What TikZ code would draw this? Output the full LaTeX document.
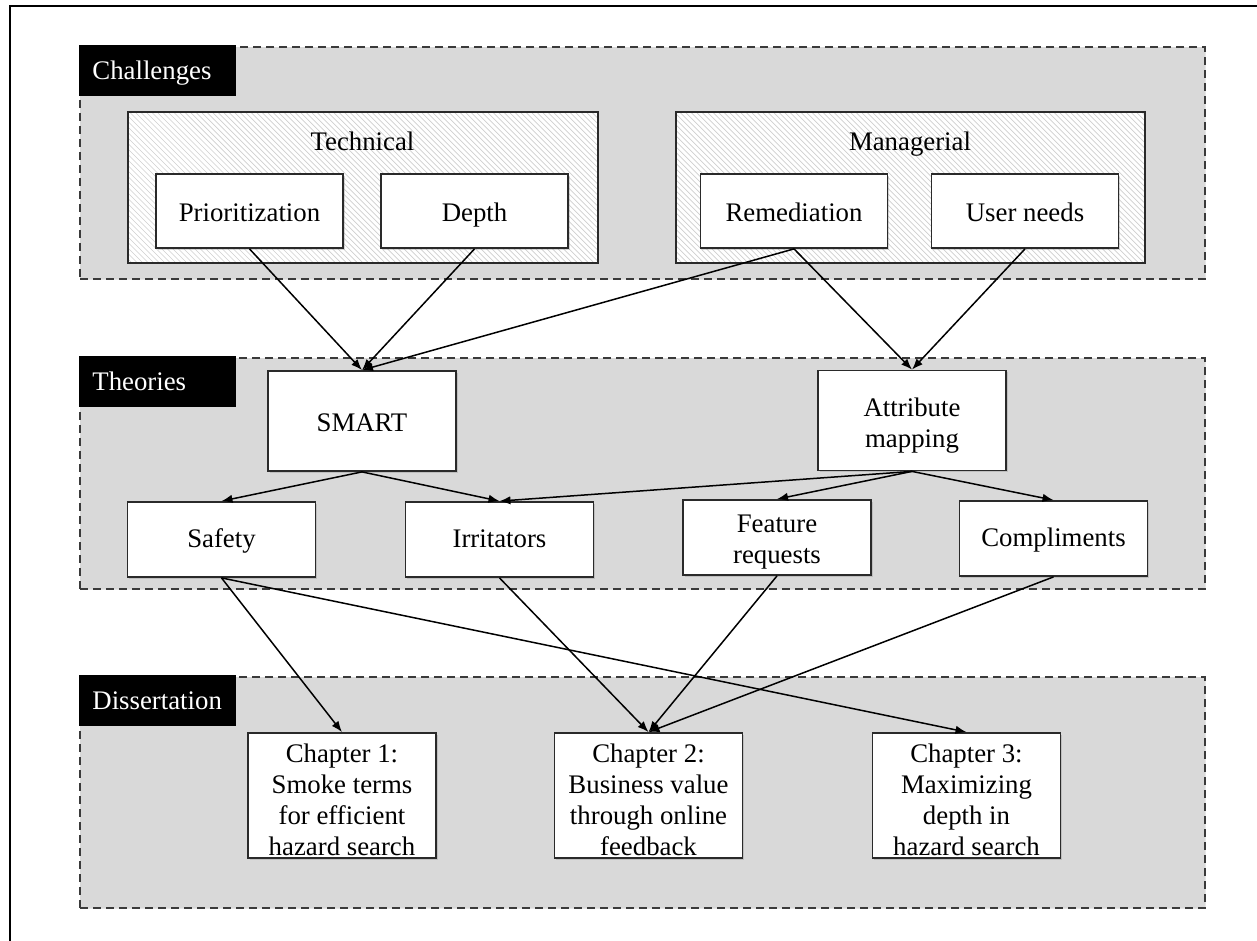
\documentclass[tikz,border=0pt]{standalone}
\usepackage{fontspec}
\setmainfont{Liberation Serif}
\usetikzlibrary{arrows.meta,shadows}
\definecolor{regionfill}{HTML}{D9D9D9}
\definecolor{dashcol}{HTML}{3A3A3A}
\definecolor{boxline}{HTML}{2A2A2A}
\definecolor{hatchcol}{HTML}{CFCFCF}
\newcommand{\myTopStrut}[1]{\rule{0pt}{#1}}
\begin{document}
\begin{tikzpicture}[x=0.5pt,y=-0.5pt,
  every node/.style={font=\fontsize{13.4}{15.5}\selectfont},
  region/.style={draw=dashcol, dash pattern=on 4pt off 2.5pt, line width=1pt,
    fill=regionfill, minimum width=562.5pt, inner sep=0pt, anchor=north west,
    drop shadow={shadow xshift=0.6pt, shadow yshift=-0.6pt, opacity=0.2}},
  seclabel/.style={fill=black, text=white, anchor=north west, text width=65.5pt,
    align=left, inner xsep=6.5pt, inner ysep=0pt, text height=11pt, text depth=2.5pt,
    minimum height=25.5pt},
  groupbox/.style={fill=white, minimum width=234.5pt, minimum height=75pt,
    inner sep=0pt, anchor=north west,
    drop shadow={shadow xshift=0.8pt, shadow yshift=-0.8pt, opacity=0.3}},
  groupborder/.style={draw=boxline, line width=0.9pt},
  hatchline/.style={draw=hatchcol, line width=0.35pt},
  box/.style={draw=boxline, fill=white, line width=0.9pt, align=center, inner sep=1pt,
    drop shadow={shadow xshift=0.8pt, shadow yshift=-0.8pt, opacity=0.3}},
  oneline/.style={text height=11pt, text depth=1pt},
  smallbox/.style={box, oneline, minimum width=93.5pt, minimum height=37pt},
  midbox/.style={box, minimum width=94pt, minimum height=50pt},
  leafbox/.style={box, minimum width=94pt, minimum height=37.5pt},
  chapbox/.style={box, minimum width=94pt, minimum height=62.5pt, inner sep=0pt},
  arr/.style={-{Latex[length=5.5pt,width=4.2pt]}, line width=0.75pt, draw=black}
]
\useasboundingbox (0,0) rectangle (1257,941);
% outer frame (left and top edges)
\draw[line width=1pt] (10,941) -- (10,6) -- (1257,6);

% regions
\node[region, minimum height=116pt] (rchal) at (79,46) {};
\node[region, minimum height=115.5pt] (rtheo) at (79,357) {};
\node[region, minimum height=115.5pt] (rdiss) at (79,676) {};

\node[seclabel] (lchal) at (79,45) {Challenges};
\node[seclabel] (ltheo) at (79,356) {Theories};
\node[seclabel] (ldiss) at (79,675) {Dissertation};

% group boxes with hatching
\node[groupbox] (tech) at (128,112) {};
\node[groupbox, minimum width=234pt] (manag) at (676,112) {};
\begin{scope}
  \clip (tech.north west) rectangle (tech.south east)
        (manag.north west) rectangle (manag.south east);
  \foreach \x in {-30,-24.5,...,1150} \draw[hatchline] (\x,112) -- ++(150,150);
\end{scope}
\draw[groupborder] (tech.north west) rectangle (tech.south east);
\draw[groupborder] (manag.north west) rectangle (manag.south east);
\node[anchor=base] (techlab) at (362.5,151) {Technical};
\node[anchor=base] (manlab) at (910,151) {Managerial};

% challenge boxes
\node[smallbox] (prio) at (249.5,211) {Prioritization};
\node[smallbox] (depth) at (474.5,211) {Depth};
\node[smallbox] (remed) at (794,211) {Remediation};
\node[smallbox] (userneeds) at (1025,211) {User needs};

% theories
\node[midbox, oneline] (smart) at (362,421) {SMART};
\node[midbox] (attr) at (912,420.5) {\myTopStrut{14pt}Attribute\\mapping};
\node[leafbox, text height=10pt, text depth=2pt] (safety) at (221.5,539.5) {Safety};
\node[leafbox, text height=10pt, text depth=2pt] (irrit) at (499.5,539.5) {Irritators};
\node[leafbox] (feat) at (777,537.5) {\myTopStrut{13.5pt}Feature\\requests};
\node[leafbox, text height=10pt, text depth=2pt] (compl) at (1053.5,538.5) {Compliments};

% dissertation chapters
\node[chapbox] (ch1) at (342,795.5) {\myTopStrut{13.2pt}Chapter 1:\\Smoke terms\\for efficient\\hazard search};
\node[chapbox] (ch2) at (648.5,795.5) {\myTopStrut{13.2pt}Chapter 2:\\Business value\\through online\\feedback};
\node[chapbox] (ch3) at (966.5,795.5) {\myTopStrut{13.2pt}Chapter 3:\\Maximizing\\depth in\\hazard search};

% connectors
\draw[arr] (prio.south) -- (smart.north);
\draw[arr] (depth.south) -- (smart.north);
\draw[arr] (remed.south) -- (smart.north);
\draw[arr] (remed.south) -- (attr.north);
\draw[arr] (userneeds.south) -- (attr.north);
\draw[arr] (smart.south) -- (safety.north);
\draw[arr] (smart.south) -- (irrit.north);
\draw[arr] (attr.south) -- (irrit.north);
\draw[arr] (attr.south) -- (feat.north);
\draw[arr] (attr.south) -- (compl.north);
\draw[arr] (safety.south) -- (ch1.north);
\draw[arr] (safety.south) -- (ch3.north);
\draw[arr] (irrit.south) -- (ch2.north);
\draw[arr] (feat.south) -- (ch2.north);
\draw[arr] (compl.south) -- (ch2.north);
\end{tikzpicture}
\end{document}
